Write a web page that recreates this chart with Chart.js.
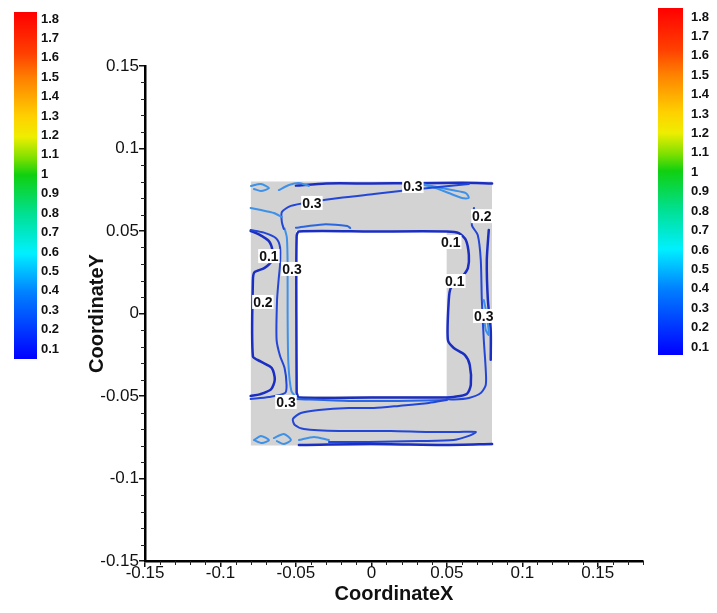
<!DOCTYPE html>
<html>
<head>
<meta charset="utf-8">
<script src="https://cdn.jsdelivr.net/npm/chart.js@4.4.1/dist/chart.umd.min.js"></script>
<style>
html,body{margin:0;padding:0;background:#fff;}
canvas{display:block;}
</style>
</head>
<body>
<canvas id="c" width="717" height="613"></canvas>
<script>
// ---------------- data ----------------
const xTickValues = [-0.15, -0.1, -0.05, 0, 0.05, 0.1, 0.15];
const yTickValues = [-0.15, -0.1, -0.05, 0, 0.05, 0.1, 0.15];
const colorbarLevels = [1.8, 1.7, 1.6, 1.5, 1.4, 1.3, 1.2, 1.1, 1, 0.9, 0.8, 0.7, 0.6, 0.5, 0.4, 0.3, 0.2, 0.1];

const outerBlockX = [-0.08, 0.08];
const outerBlockY = [-0.08, 0.08];
const innerHoleX = [-0.05, 0.05];
const innerHoleY = [-0.05, 0.05];

const contourInnerLoop = [[-0.0495,-0.048],[-0.0497,0.0],[-0.0495,0.047],[-0.048,0.0497],[0.0,0.0497],[0.05,0.0497],[0.058,0.0487],[0.0626,0.0445],[0.0646,0.0355],[0.064,0.0276],[0.0606,0.0227],[0.0527,0.0155],[0.0513,0.0082],[0.0507,-0.016],[0.0546,-0.0209],[0.0619,-0.0251],[0.0652,-0.0312],[0.0659,-0.0433],[0.0632,-0.0488],[0.0546,-0.0506],[0.05,-0.0509],[0.0,-0.0509],[-0.048,-0.0509],[-0.0495,-0.048]];
const contourLeftOuter = [[-0.08,0.05],[-0.0745,0.048],[-0.068,0.044],[-0.0655,0.038],[-0.066,0.032],[-0.071,0.0275],[-0.0775,0.025],[-0.0785,0.02],[-0.0785,-0.026],[-0.0735,-0.029],[-0.066,-0.033],[-0.064,-0.04],[-0.0665,-0.046],[-0.074,-0.049],[-0.08,-0.05]];
const contourLeftMid = [[-0.08,0.0506],[-0.0712,0.049],[-0.063,0.0455],[-0.0605,0.04],[-0.0605,0.03],[-0.0615,0.02],[-0.0625,0.008],[-0.0628,-0.016],[-0.0605,-0.0258],[-0.0575,-0.033],[-0.0562,-0.0433],[-0.0572,-0.0482],[-0.0679,-0.0506],[-0.08,-0.0518]];
const contourLeftInner = [[-0.0575,0.0515],[-0.056,0.046],[-0.0555,0.03],[-0.0555,0.0],[-0.055,-0.03],[-0.053,-0.047],[-0.05,-0.0505]];
const contourTopEdge = [[-0.05,0.0775],[-0.03,0.0788],[0.0,0.0788],[0.03,0.079],[0.06,0.0792],[0.08,0.0788]];
const contourTopLoop = [[0.0334,0.0785],[0.0533,0.0748],[0.0626,0.073],[0.0646,0.07],[0.06,0.07],[0.0513,0.073],[0.0427,0.076],[0.0348,0.0779]];
const contourTopDiag = [[-0.058,0.0512],[-0.0593,0.0554],[-0.0593,0.0615],[-0.0533,0.0652],[-0.0394,0.0676],[-0.0215,0.07],[0.0017,0.0724],[0.0248,0.0748],[0.0447,0.0767],[0.0646,0.0785]];
const contourTopLeftLight = [[-0.08,0.064],[-0.0732,0.0627],[-0.0646,0.0609],[-0.0593,0.0585]];
const contourTopSquiggleA = [[-0.0798,0.0773],[-0.0732,0.0785],[-0.0679,0.076],[-0.0732,0.0742],[-0.0778,0.0755]];
const contourTopSquiggleB = [[-0.0613,0.0748],[-0.0546,0.0779],[-0.048,0.0791],[-0.0414,0.0773]];
const contourTopInnerLight = [[-0.05,0.052],[-0.032,0.054],[-0.016,0.053],[-0.014,0.0518]];
const contourRightMid = [[0.068,0.064],[0.0666,0.0536],[0.0705,0.0476],[0.0725,0.0324],[0.0732,0.0082],[0.0745,-0.016],[0.0758,-0.0342],[0.0758,-0.0433],[0.0725,-0.0482],[0.0646,-0.0512],[0.0546,-0.0521],[0.05,-0.0518]];
const contourRightEdge = [[0.0778,0.0506],[0.0765,0.0324],[0.0772,0.0082],[0.0791,-0.01],[0.0791,-0.028]];
const contourRightLoop = [[0.0745,0.0082],[0.0765,-0.0009],[0.0778,-0.013],[0.0758,-0.01],[0.0745,-0.0009]];
const contourBottomInner = [[-0.0507,-0.0518],[-0.0149,-0.053],[0.0182,-0.053],[0.05,-0.0524]];
const contourBottomU = [[0.05,-0.0524],[0.0381,-0.0542],[0.0182,-0.056],[0.0017,-0.0573],[-0.0149,-0.0573],[-0.0348,-0.0585],[-0.0467,-0.0603],[-0.052,-0.0639],[-0.0507,-0.0676],[-0.0447,-0.07],[-0.0215,-0.0712],[0.0129,-0.0712],[0.0381,-0.0718],[0.058,-0.0718],[0.0692,-0.0718],[0.0646,-0.0742],[0.0546,-0.0767],[0.0315,-0.0773],[-0.0017,-0.0779],[-0.0281,-0.0779]];
const contourBottomEdge = [[-0.048,-0.0797],[0.0,-0.0791],[0.05,-0.0797],[0.08,-0.0791]];
const contourBottomSquiggleA = [[-0.0778,-0.0767],[-0.0732,-0.0742],[-0.0679,-0.0767],[-0.0725,-0.0785],[-0.0778,-0.0767]];
const contourBottomSquiggleB = [[-0.0646,-0.0755],[-0.058,-0.073],[-0.0533,-0.0767],[-0.058,-0.0791],[-0.0626,-0.0773]];
const contourBottomSquiggleC = [[-0.048,-0.0767],[-0.038,-0.0748],[-0.0281,-0.0767]];

const contourLines = [
  {level: 0.1, points: contourInnerLoop},
  {level: 0.1, points: contourLeftOuter},
  {level: 0.2, points: contourLeftMid},
  {level: 0.35, points: contourLeftInner},
  {level: 0.1, points: contourTopEdge},
  {level: 0.35, points: contourTopLoop},
  {level: 0.2, points: contourTopDiag},
  {level: 0.35, points: contourTopLeftLight},
  {level: 0.35, points: contourTopSquiggleA},
  {level: 0.35, points: contourTopSquiggleB},
  {level: 0.3, points: contourTopInnerLight},
  {level: 0.2, points: contourRightMid},
  {level: 0.1, points: contourRightEdge},
  {level: 0.35, points: contourRightLoop},
  {level: 0.3, points: contourBottomInner},
  {level: 0.2, points: contourBottomU},
  {level: 0.1, points: contourBottomEdge},
  {level: 0.35, points: contourBottomSquiggleA},
  {level: 0.35, points: contourBottomSquiggleB},
  {level: 0.35, points: contourBottomSquiggleC}
];

const contourLabelText = ['0.3', '0.3', '0.2', '0.1', '0.1', '0.3', '0.1', '0.2', '0.3', '0.3'];
const contourLabelX = [0.0275, -0.0394, 0.0732, 0.0526, -0.0679, -0.0526, 0.0553, -0.0719, 0.0745, -0.0566];
const contourLabelY = [0.0773, 0.067, 0.059, 0.0433, 0.0348, 0.027, 0.0197, 0.007, -0.0015, -0.0536];

// ---------------- styling ----------------
const FONT = '"Liberation Sans", Arial, Helvetica, sans-serif';
Chart.defaults.font.family = FONT;

function levelColor(level) {
  if (level <= 0.1) return '#1b2ec2';
  if (level <= 0.2) return '#2346d6';
  if (level <= 0.3) return '#2c66de';
  return '#3f91e8';
}

const toXY = pts => pts.map(p => ({x: p[0], y: p[1]}));

const datasets = [];
datasets.push({
  data: [{x: outerBlockX[0], y: outerBlockY[1]}, {x: outerBlockX[1], y: outerBlockY[1]}],
  fill: {value: outerBlockY[0]}, backgroundColor: '#d3d3d3', borderWidth: 0,
  pointRadius: 0, order: 30
});
datasets.push({
  data: [{x: innerHoleX[0], y: innerHoleY[1]}, {x: innerHoleX[1], y: innerHoleY[1]}],
  fill: {value: innerHoleY[0]}, backgroundColor: '#ffffff', borderWidth: 0,
  pointRadius: 0, order: 29
});
contourLines.forEach((c, i) => {
  datasets.push({
    data: toXY(c.points), fill: false,
    borderColor: levelColor(c.level),
    borderWidth: c.level <= 0.1 ? 2.5 : 2,
    pointRadius: 0, tension: 0.25, order: 20 - i * 0.01,
    borderJoinStyle: 'round', borderCapStyle: 'round'
  });
});

function fmt(v) { return String(Math.round(v * 100) / 100); }

const minorTicksPlugin = {
  id: 'minorTicks',
  afterDraw(chart) {
    const {ctx, scales: {x, y}, chartArea} = chart;
    const step = 0.01;
    ctx.save();
    ctx.strokeStyle = '#222';
    ctx.lineWidth = 1;
    for (let i = Math.round(x.min / step); i <= Math.round(x.max / step); i++) {
      if (i % 5 === 0) continue;
      const px = Math.round(x.getPixelForValue(i * step)) + 0.5;
      ctx.beginPath(); ctx.moveTo(px, chartArea.bottom); ctx.lineTo(px, chartArea.bottom + 4); ctx.stroke();
    }
    for (let i = Math.round(y.min / step); i <= Math.round(y.max / step); i++) {
      if (i % 5 === 0) continue;
      const py = Math.round(y.getPixelForValue(i * step)) + 0.5;
      ctx.beginPath(); ctx.moveTo(chartArea.left - 4, py); ctx.lineTo(chartArea.left, py); ctx.stroke();
    }
    ctx.restore();
  }
};

const contourLabelPlugin = {
  id: 'contourLabels',
  afterDatasetsDraw(chart) {
    const {ctx, scales: {x, y}} = chart;
    ctx.save();
    ctx.font = 'bold 14px ' + FONT;
    ctx.textAlign = 'center';
    ctx.textBaseline = 'middle';
    contourLabelText.forEach((t, i) => {
      const px = x.getPixelForValue(contourLabelX[i]);
      const py = y.getPixelForValue(contourLabelY[i]);
      const w = ctx.measureText(t).width + 2;
      ctx.fillStyle = '#ffffff';
      ctx.fillRect(px - w / 2, py - 7, w, 14);
      ctx.fillStyle = '#111';
      ctx.fillText(t, px, py + 1);
    });
    ctx.restore();
  }
};

function drawColorbar(ctx, bx, by, bw, bh, labelX, firstY, lastY) {
  const g = ctx.createLinearGradient(0, by, 0, by + bh);
  g.addColorStop(0.0, '#ff0000');
  g.addColorStop(0.12, '#ff4000');
  g.addColorStop(0.19, '#ff8000');
  g.addColorStop(0.30, '#ffd000');
  g.addColorStop(0.36, '#eeee00');
  g.addColorStop(0.42, '#80e000');
  g.addColorStop(0.47, '#10d010');
  g.addColorStop(0.58, '#00e090');
  g.addColorStop(0.695, '#00f0ff');
  g.addColorStop(0.81, '#0080ff');
  g.addColorStop(1.0, '#0000ff');
  ctx.fillStyle = g;
  ctx.fillRect(bx, by, bw, bh);
  ctx.font = 'bold 13px ' + FONT;
  ctx.fillStyle = '#111';
  ctx.textAlign = 'left';
  ctx.textBaseline = 'middle';
  const n = colorbarLevels.length;
  colorbarLevels.forEach((v, i) => {
    const ly = firstY + (lastY - firstY) * i / (n - 1);
    ctx.fillText(fmt(v), labelX, ly);
  });
}

const colorbarPlugin = {
  id: 'colorbars',
  afterDraw(chart) {
    const ctx = chart.ctx;
    ctx.save();
    drawColorbar(ctx, 14, 12, 23, 347, 41, 19, 349);
    drawColorbar(ctx, 658, 8, 25, 347, 691, 17, 347);
    ctx.restore();
  }
};

new Chart(document.getElementById('c'), {
  type: 'line',
  data: {datasets},
  options: {
    responsive: false,
    animation: false,
    layout: {padding: {left: 81, right: 74, top: 66, bottom: 0}},
    plugins: {legend: {display: false}, tooltip: {enabled: false}},
    scales: {
      x: {
        type: 'linear', min: -0.15, max: 0.18,
        afterBuildTicks: s => { s.ticks = xTickValues.map(v => ({value: v})); },
        afterFit: s => { s.height = 52; },
        grid: {drawOnChartArea: false, drawTicks: true, tickLength: 6, color: '#111', lineWidth: 1.5},
        border: {display: true, color: '#000', width: 2.5},
        ticks: {callback: v => fmt(v), color: '#111', font: {size: 17}, padding: -4, maxRotation: 0, autoSkip: false},
        title: {display: true, text: 'CoordinateX', color: '#111', font: {size: 20, weight: 'bold'}, padding: {top: 0, bottom: 7}}
      },
      y: {
        type: 'linear', min: -0.15, max: 0.15,
        afterBuildTicks: s => { s.ticks = yTickValues.map(v => ({value: v})); },
        afterFit: s => { s.width = 64; },
        grid: {drawOnChartArea: false, drawTicks: true, tickLength: 6, color: '#111', lineWidth: 1.5},
        border: {display: true, color: '#000', width: 2.5},
        ticks: {callback: v => fmt(v), color: '#111', font: {size: 17}, padding: 0, autoSkip: false},
        title: {display: true, text: 'CoordinateY', color: '#111', font: {size: 20, weight: 'bold'}, padding: {top: 4, bottom: 0}}
      }
    }
  },
  plugins: [minorTicksPlugin, contourLabelPlugin, colorbarPlugin]
});
</script>
</body>
</html>
